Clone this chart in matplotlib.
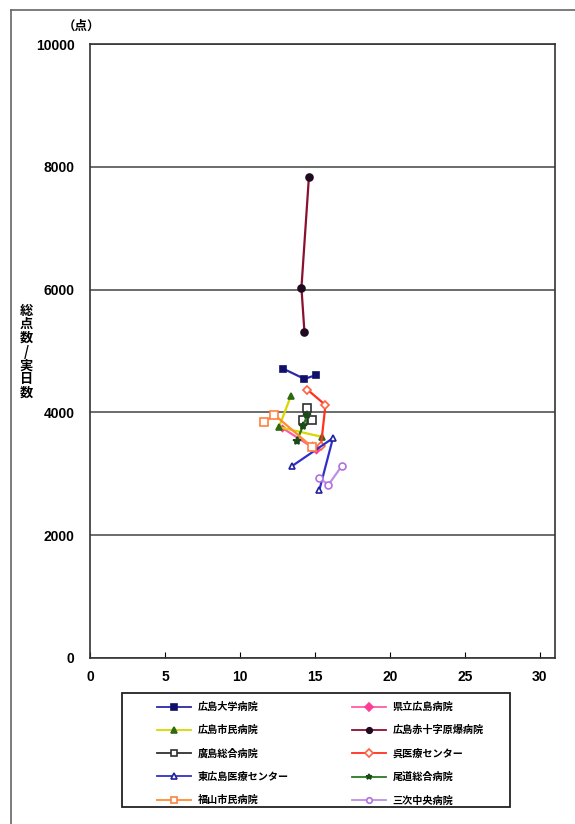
import matplotlib
matplotlib.use("Agg")
import matplotlib.pyplot as plt
from matplotlib.lines import Line2D
from matplotlib.patches import Rectangle

plt.rcParams['font.family'] = ['Noto Sans CJK JP', 'DejaVu Sans']

# 病院ごとの (在院日数, 総点数/実日数)
hospitals = ['広島大学病院', '県立広島病院', '広島市民病院', '広島赤十字原爆病院',
             '廣島総合病院', '呉医療センター', '東広島医療センター', '尾道総合病院',
             '福山市民病院', '三次中央病院']

hiroshima_univ_x = [12.9, 14.3, 15.1]
hiroshima_univ_y = [4710, 4545, 4610]
kenritsu_x = [12.8, 15.1, 14.8]
kenritsu_y = [3750, 3390, 3470]
shimin_x = [13.4, 12.6, 15.5]
shimin_y = [4270, 3760, 3600]
sekijuji_x = [14.6, 14.1, 14.3]
sekijuji_y = [7840, 6030, 5310]
hiroshima_sogo_x = [14.5, 14.2, 14.8]
hiroshima_sogo_y = [4070, 3880, 3880]
kure_x = [14.5, 15.7, 15.4]
kure_y = [4370, 4120, 3450]
higashi_x = [13.5, 16.2, 15.3]
higashi_y = [3130, 3580, 2740]
onomichi_x = [13.8, 14.2, 14.5]
onomichi_y = [3540, 3780, 3950]
fukuyama_x = [11.6, 12.3, 14.8]
fukuyama_y = [3840, 3960, 3440]
miyoshi_x = [15.3, 15.9, 16.8]
miyoshi_y = [2930, 2820, 3130]

series = [
    (hiroshima_univ_x, hiroshima_univ_y, '#2a2aa8', 's', '#10106a', '#10106a', 5),
    (kenritsu_x, kenritsu_y, '#ff5aa8', 'D', '#ff3c96', '#ff3c96', 3),
    (shimin_x, shimin_y, '#d8d800', '^', '#2e6a10', '#2e6a10', 5),
    (sekijuji_x, sekijuji_y, '#8a1030', 'o', '#200a20', '#200a20', 5),
    (hiroshima_sogo_x, hiroshima_sogo_y, '#303030', 's', '#303030', 'white', 6),
    (kure_x, kure_y, '#ff3020', 'D', '#ff6040', 'white', 4),
    (higashi_x, higashi_y, '#3030c8', '^', '#2020a0', 'white', 5),
    (onomichi_x, onomichi_y, '#2a7a20', '*', '#1a4a18', '#1a4a18', 6),
    (fukuyama_x, fukuyama_y, '#ff8c30', 's', '#ff8040', 'white', 6),
    (miyoshi_x, miyoshi_y, '#c090e0', 'o', '#b070e0', 'white', 5),
]

fig = plt.figure(figsize=(5.75, 8.24), dpi=100)
ax = fig.add_axes([0.1565, 0.2015, 0.8085, 0.7451])

handles = []
for name, (xs, ys, lc, mk, mec, mfc, ms) in zip(hospitals, series):
    ln, = ax.plot(xs, ys, color=lc, lw=1.6, marker=mk, markersize=ms,
                  markeredgecolor=mec, markerfacecolor=mfc, markeredgewidth=1.2,
                  label=name, zorder=3)
    handles.append(ln)

ax.set_xlim(0, 31)
ax.set_ylim(0, 10000)
ax.set_xticks(range(0, 31, 5))
ax.set_yticks(range(0, 10001, 2000))
ax.yaxis.grid(True, color='#444444', lw=1.1)
ax.set_axisbelow(True)
ax.tick_params(axis='x', direction='in', length=4, pad=9)
ax.tick_params(axis='y', length=0, pad=11)
for lab in ax.get_xticklabels() + ax.get_yticklabels():
    lab.set_fontfamily('Liberation Sans')
    lab.set_fontweight('bold')
    lab.set_fontsize(10)
for sp in ax.spines.values():
    sp.set_color('#333333')
    sp.set_linewidth(1.2)

fig.text(0.046, 0.573, '総\n点\n数\n/\n実\n日\n数', fontsize=9.5, fontweight='bold',
         ha='center', va='center', linespacing=0.98)
fig.text(0.142, 0.968, '（点）', fontsize=9, fontweight='bold', ha='center', va='center')

# 凡例: 2列、行ごとに左右へ並べる
leg_kw = dict(loc='upper left', frameon=False, borderpad=0, borderaxespad=0,
              handlelength=3.4, handletextpad=0.6, labelspacing=1.3,
              prop={'weight': 'bold', 'size': 7.3, 'family': 'Noto Sans CJK JP'})
leg1 = fig.legend(handles[0::2], hospitals[0::2],
                  bbox_to_anchor=(157 / 575, 1 - 702 / 824), **leg_kw)
leg2 = fig.legend(handles[1::2], hospitals[1::2],
                  bbox_to_anchor=(352 / 575, 1 - 702 / 824), **leg_kw)
for lg in (leg1, leg2):
    for h in lg.legend_handles:
        h.set_markersize(4)
        h.set_linewidth(1.3)
fig.add_artist(Rectangle((122 / 575, 1 - 807 / 824), 388 / 575, 114 / 824,
                         transform=fig.transFigure, fill=False,
                         edgecolor='#222222', lw=1.3))

# 外枠
fig.add_artist(Line2D([0.019, 1.0], [0.988, 0.988], transform=fig.transFigure,
                      color='#666666', lw=1.2))
fig.add_artist(Line2D([0.019, 0.019], [0.0, 0.988], transform=fig.transFigure,
                      color='#666666', lw=1.2))

fig.savefig('out.png', dpi=100)
